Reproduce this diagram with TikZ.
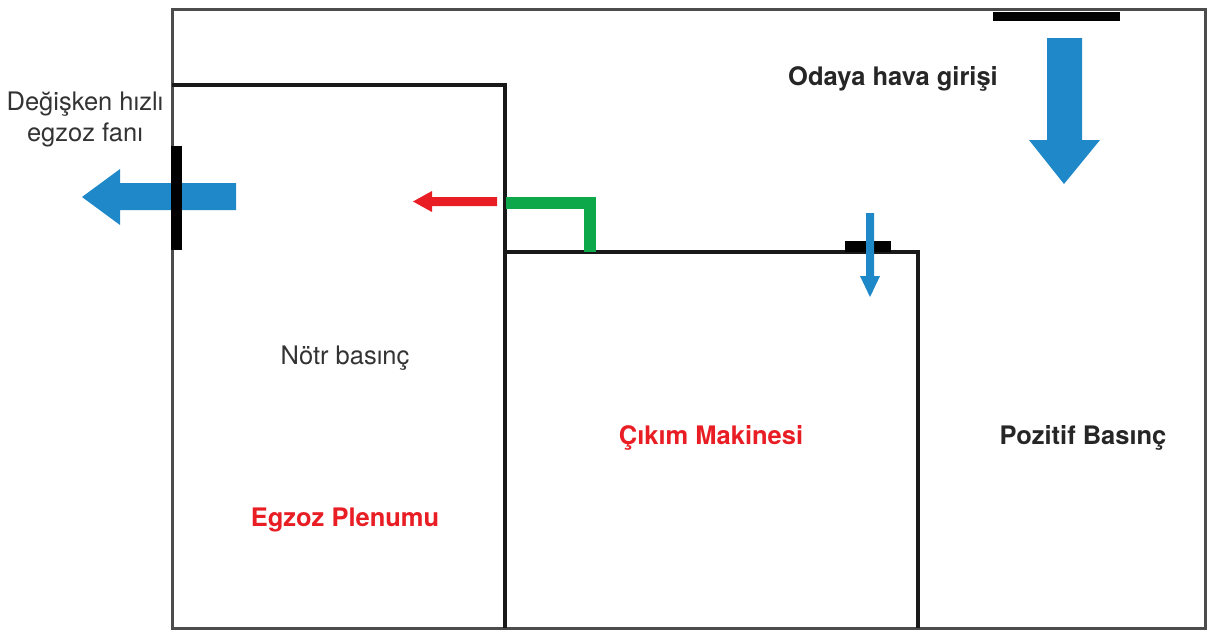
\documentclass[tikz,border=0pt]{standalone}
\usepackage{fontspec}
\setmainfont{TeX Gyre Heros}
\begin{document}
\begin{tikzpicture}[x=1pt,y=-1pt,
  wall/.style={line width=3.2pt,draw=black!90},
  outerwall/.style={line width=3pt,draw=black!70},
  damper/.style={fill=black},
  flow/.style={fill=flowblue},
  lbl/.style={font=\fontsize{25.5}{31}\selectfont\bfseries,text=black!85},
  lightlbl/.style={font=\fontsize{25.5}{31}\selectfont,text=black!80},
  redlbl/.style={font=\fontsize{25.5}{31}\selectfont\bfseries,text=labelred}]
\definecolor{flowblue}{RGB}{30,136,200}
\definecolor{labelred}{RGB}{232,30,36}
\definecolor{ductgreen}{RGB}{12,168,74}
\useasboundingbox (0,0) rectangle (1209,632);
% room outline
\draw[outerwall] (172,628) -- (172,9) -- (1205,9) -- (1205,628) -- cycle;
% exhaust plenum
\draw[wall] (172,85) -- (505,85) -- (505,628);
% machine enclosure
\draw[wall] (505,252) -- (918,252) -- (918,628);
% supply damper in ceiling
\fill[damper] (993,12) rectangle (1120,21);
% supply air arrow
\fill[flow] (1047,38) -- (1082,38) -- (1082,140) -- (1100,140) -- (1064,184) -- (1029,140) -- (1047,140) -- cycle;
% exhaust air arrow
\fill[flow] (236,183) -- (236,210) -- (120,210) -- (120,225) -- (82,197) -- (120,169) -- (120,183) -- cycle;
% exhaust fan on side wall
\fill[damper] (171,146) rectangle (182,250);
% green extraction duct
\draw[draw=ductgreen,line width=12pt] (506,203) -- (590,203) -- (590,252);
% red flow arrow out of the duct
\fill[labelred] (497,197) -- (497,206) -- (432,206) -- (432,212) -- (413,201.5) -- (432,191) -- (432,197) -- cycle;
% damper on top of the machine
\fill[damper] (845,241) rectangle (891,252);
% small blue arrow through the damper
\fill[flow] (866,213) -- (874,213) -- (874,276) -- (880,276) -- (870,297) -- (860,276) -- (866,276) -- cycle;
% labels
\node[lightlbl,align=center] (fanlbl) at (85,119) {Değişken hızlı\\egzoz fanı};
\node[lbl] (inlet) at (893,79) {Odaya hava girişi};
\node[lightlbl] (neutral) at (345,358) {Nötr basınç};
\node[redlbl] (machine) at (711,438) {Çıkım Makinesi};
\node[lbl] (positive) at (1083,438) {Pozitif Basınç};
\node[redlbl] (plenum) at (345,520) {Egzoz Plenumu};
\end{tikzpicture}
\end{document}
